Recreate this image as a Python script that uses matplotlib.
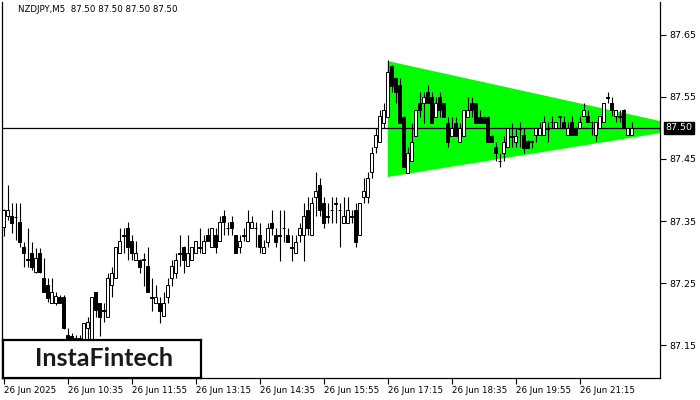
'''
NZDJPY M5 - бычий симметричный треугольник
'''

import numpy as np
import matplotlib.pyplot as plt
from matplotlib.patches import Polygon

title = 'NZDJPY,M5  87.50 87.50 87.50 87.50'
last_price = 87.50

# подписи по оси X (каждые 16 баров)
time_labels = ['26 Jun 2025', '26 Jun 10:35', '26 Jun 11:55', '26 Jun 13:15', '26 Jun 14:35',
               '26 Jun 15:55', '26 Jun 17:15', '26 Jun 18:35', '26 Jun 19:55', '26 Jun 21:15']
price_ticks = [87.15, 87.25, 87.35, 87.45, 87.55, 87.65]

opens = [
    87.340, 87.358, 87.358, 87.357, 87.348, 87.308, 87.288, 87.298, 87.268, 87.298,
    87.258, 87.247, 87.218, 87.218, 87.227, 87.227, 87.166, 87.165, 87.161, 87.160,
    87.158, 87.177, 87.158, 87.235, 87.218, 87.206, 87.195, 87.247, 87.258, 87.298,
    87.327, 87.339, 87.318, 87.287, 87.287, 87.287, 87.277, 87.227, 87.218, 87.218,
    87.197, 87.227, 87.258, 87.266, 87.298, 87.308, 87.277, 87.287, 87.298, 87.308,
    87.298, 87.327, 87.308, 87.327, 87.318, 87.358, 87.339, 87.348, 87.327, 87.308,
    87.327, 87.318, 87.339, 87.339, 87.327, 87.298, 87.316, 87.347, 87.327, 87.327,
    87.339, 87.327, 87.308, 87.298, 87.327, 87.327, 87.368, 87.327, 87.389, 87.408,
    87.379, 87.358, 87.368, 87.379, 87.368, 87.347, 87.347, 87.358, 87.368, 87.327,
    87.389, 87.389, 87.429, 87.469, 87.477, 87.508, 87.518, 87.600, 87.581, 87.569,
    87.518, 87.427, 87.447, 87.487, 87.540, 87.540, 87.558, 87.550, 87.518, 87.550,
    87.540, 87.508, 87.487, 87.508, 87.477, 87.487, 87.518, 87.540, 87.540, 87.518,
    87.518, 87.518, 87.487, 87.469, 87.447, 87.460, 87.469, 87.487, 87.477, 87.500,
    87.489, 87.479, 87.479, 87.489, 87.489, 87.489, 87.500, 87.510, 87.500, 87.519,
    87.510, 87.489, 87.510, 87.500, 87.500, 87.519, 87.519, 87.510, 87.489, 87.500,
    87.510, 87.550, 87.540, 87.519, 87.519, 87.529, 87.489, 87.489]
highs = [
    87.370, 87.408, 87.379, 87.379, 87.379, 87.316, 87.339, 87.316, 87.306, 87.306,
    87.290, 87.258, 87.258, 87.235, 87.230, 87.230, 87.177, 87.169, 87.166, 87.166,
    87.185, 87.195, 87.227, 87.235, 87.218, 87.218, 87.266, 87.276, 87.308, 87.339,
    87.339, 87.348, 87.327, 87.318, 87.288, 87.298, 87.308, 87.258, 87.247, 87.227,
    87.235, 87.258, 87.287, 87.298, 87.327, 87.309, 87.327, 87.308, 87.318, 87.339,
    87.327, 87.339, 87.339, 87.339, 87.358, 87.368, 87.348, 87.358, 87.328, 87.327,
    87.339, 87.368, 87.358, 87.348, 87.347, 87.319, 87.347, 87.368, 87.339, 87.368,
    87.368, 87.339, 87.327, 87.327, 87.347, 87.379, 87.389, 87.389, 87.429, 87.419,
    87.389, 87.379, 87.389, 87.389, 87.379, 87.389, 87.389, 87.368, 87.379, 87.379,
    87.419, 87.429, 87.469, 87.500, 87.529, 87.540, 87.610, 87.601, 87.582, 87.581,
    87.519, 87.469, 87.508, 87.529, 87.558, 87.558, 87.569, 87.558, 87.550, 87.558,
    87.541, 87.518, 87.518, 87.518, 87.508, 87.529, 87.550, 87.550, 87.541, 87.529,
    87.519, 87.519, 87.488, 87.477, 87.460, 87.487, 87.500, 87.508, 87.500, 87.510,
    87.500, 87.480, 87.480, 87.500, 87.510, 87.519, 87.510, 87.519, 87.510, 87.520,
    87.519, 87.510, 87.519, 87.501, 87.519, 87.540, 87.529, 87.511, 87.510, 87.519,
    87.540, 87.558, 87.550, 87.529, 87.529, 87.530, 87.500, 87.510]
lows = [
    87.326, 87.352, 87.331, 87.319, 87.308, 87.276, 87.276, 87.271, 87.266, 87.266,
    87.235, 87.219, 87.218, 87.215, 87.218, 87.176, 87.145, 87.142, 87.139, 87.150,
    87.148, 87.158, 87.155, 87.195, 87.165, 87.187, 87.195, 87.227, 87.258, 87.298,
    87.298, 87.287, 87.287, 87.287, 87.266, 87.245, 87.235, 87.205, 87.218, 87.185,
    87.197, 87.218, 87.245, 87.258, 87.277, 87.266, 87.277, 87.287, 87.298, 87.298,
    87.298, 87.318, 87.308, 87.298, 87.318, 87.327, 87.327, 87.327, 87.298, 87.298,
    87.318, 87.318, 87.339, 87.308, 87.298, 87.298, 87.308, 87.327, 87.308, 87.285,
    87.316, 87.316, 87.285, 87.298, 87.316, 87.285, 87.327, 87.327, 87.358, 87.358,
    87.339, 87.347, 87.347, 87.347, 87.308, 87.347, 87.347, 87.347, 87.308, 87.327,
    87.379, 87.379, 87.419, 87.460, 87.477, 87.500, 87.518, 87.558, 87.540, 87.508,
    87.437, 87.427, 87.447, 87.487, 87.518, 87.508, 87.540, 87.508, 87.518, 87.518,
    87.518, 87.469, 87.487, 87.487, 87.477, 87.487, 87.518, 87.518, 87.508, 87.508,
    87.508, 87.477, 87.477, 87.447, 87.437, 87.447, 87.469, 87.469, 87.469, 87.469,
    87.460, 87.468, 87.468, 87.477, 87.489, 87.489, 87.477, 87.500, 87.500, 87.500,
    87.500, 87.489, 87.489, 87.489, 87.500, 87.519, 87.510, 87.489, 87.479, 87.500,
    87.510, 87.540, 87.519, 87.510, 87.510, 87.500, 87.489, 87.489]
closes = [
    87.368, 87.368, 87.347, 87.356, 87.316, 87.298, 87.287, 87.276, 87.290, 87.268,
    87.235, 87.226, 87.235, 87.229, 87.218, 87.177, 87.158, 87.155, 87.160, 87.161,
    87.185, 87.187, 87.227, 87.206, 87.195, 87.205, 87.258, 87.266, 87.308, 87.318,
    87.326, 87.308, 87.298, 87.298, 87.276, 87.288, 87.235, 87.226, 87.227, 87.205,
    87.218, 87.247, 87.277, 87.287, 87.297, 87.287, 87.298, 87.308, 87.318, 87.307,
    87.318, 87.318, 87.339, 87.308, 87.348, 87.348, 87.338, 87.339, 87.298, 87.318,
    87.326, 87.348, 87.348, 87.338, 87.308, 87.308, 87.339, 87.339, 87.316, 87.326,
    87.338, 87.316, 87.307, 87.316, 87.339, 87.358, 87.339, 87.379, 87.398, 87.368,
    87.347, 87.357, 87.367, 87.378, 87.367, 87.358, 87.368, 87.357, 87.316, 87.379,
    87.398, 87.419, 87.460, 87.489, 87.519, 87.529, 87.590, 87.568, 87.558, 87.508,
    87.437, 87.460, 87.477, 87.529, 87.529, 87.550, 87.540, 87.508, 87.540, 87.529,
    87.518, 87.477, 87.500, 87.487, 87.500, 87.529, 87.529, 87.529, 87.508, 87.508,
    87.508, 87.477, 87.477, 87.460, 87.446, 87.477, 87.500, 87.486, 87.487, 87.499,
    87.468, 87.468, 87.478, 87.500, 87.500, 87.510, 87.499, 87.509, 87.510, 87.518,
    87.500, 87.500, 87.489, 87.489, 87.510, 87.529, 87.510, 87.509, 87.510, 87.519,
    87.540, 87.549, 87.529, 87.529, 87.518, 87.500, 87.500, 87.500]

# треугольник: (бар, цена)
triangle = [(96, 87.608), (96, 87.421), (172, 87.50)]

fig = plt.figure(figsize=(7, 4), dpi=100)
ax = fig.add_axes([2 / 700, 22 / 400, 658 / 700, 376 / 400])

x = np.arange(len(closes))
o = np.array(opens)
c = np.array(closes)
up = c >= o
bottom = np.minimum(o, c)
height = np.abs(c - o)

ax.add_patch(Polygon(triangle, closed=True, facecolor='#00ff00', edgecolor='none', zorder=1))
ax.axhline(last_price, color='black', lw=0.9, zorder=2)

ax.vlines(x, lows, highs, color='black', lw=0.8, zorder=3)
ax.bar(x[up], height[up], bottom=bottom[up], width=0.6, facecolor='white',
       edgecolor='black', lw=0.7, zorder=4)
ax.bar(x[~up], height[~up], bottom=bottom[~up], width=0.6, facecolor='black',
       edgecolor='black', lw=0.7, zorder=4)

ax.set_xlim(-0.425, 164.08)
ax.set_ylim(87.0968, 87.7032)

ax.spines['top'].set_visible(False)
for s in ['left', 'bottom', 'right']:
    ax.spines[s].set_linewidth(0.9)

ax.set_xticks(np.arange(len(time_labels)) * 16)
ax.set_xticklabels(time_labels)
for lbl in ax.get_xticklabels():
    lbl.set_ha('left')
ax.tick_params(axis='x', length=4, width=0.8, pad=2, labelsize=6.3)

ax.yaxis.tick_right()
ax.set_yticks(price_ticks)
ax.set_yticklabels(['%.2f' % p for p in price_ticks])
ax.tick_params(axis='y', length=4, width=0.8, pad=3, labelsize=6.8)

ax.annotate('%.2f' % last_price, xy=(1, last_price), xycoords=('axes fraction', 'data'),
            xytext=(4, 0), textcoords='offset points', va='center', ha='left',
            fontsize=6.8, color='white',
            bbox=dict(boxstyle='square,pad=0.2', fc='black', ec='black'))

fig.text(18 / 700, 1 - 10 / 400, title, fontsize=6.2, va='center', ha='left')

# логотип
logo = fig.add_axes([3 / 700, 22 / 400, 198 / 700, 38 / 400])
logo.set_xticks([])
logo.set_yticks([])
for s in logo.spines.values():
    s.set_linewidth(1.6)
logo.text(0.51, 0.5, 'InstaFintech', fontsize=18, family='Lato', fontweight='bold',
          color='#1a1a1a', ha='center', va='center', transform=logo.transAxes)

plt.savefig('out.png', dpi=100)
